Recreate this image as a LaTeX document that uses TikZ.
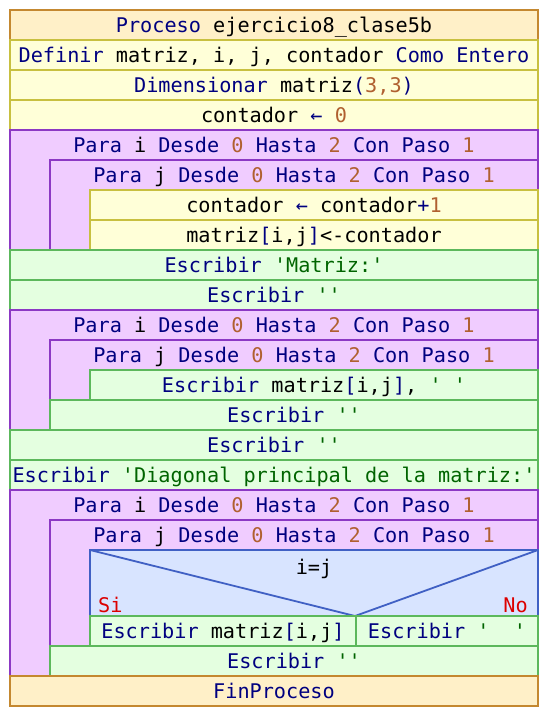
\documentclass[tikz,border=0pt]{standalone}
\usepackage{fontspec}
\newfontfamily\psefont{DejaVu Sans Mono}
\definecolor{orfill}{RGB}{255,240,200}
\definecolor{ordraw}{RGB}{196,136,48}
\definecolor{yefill}{RGB}{255,255,216}
\definecolor{yedraw}{RGB}{200,192,64}
\definecolor{pufill}{RGB}{240,204,255}
\definecolor{pudraw}{RGB}{140,56,196}
\definecolor{grfill}{RGB}{228,255,224}
\definecolor{grdraw}{RGB}{92,184,92}
\definecolor{blfill}{RGB}{216,228,255}
\definecolor{bldraw}{RGB}{64,96,196}
\definecolor{kwc}{RGB}{0,0,128}
\definecolor{nmc}{RGB}{176,96,48}
\definecolor{stc}{RGB}{0,100,0}
\definecolor{rdc}{RGB}{220,0,0}
\newcommand{\kw}[1]{\textcolor{kwc}{#1}}
\newcommand{\nm}[1]{\textcolor{nmc}{#1}}
\newcommand{\st}[1]{\textcolor{stc}{#1}}
\tikzset{
  probox/.style={fill=orfill,draw=ordraw,line width=2pt},
  asgbox/.style={fill=yefill,draw=yedraw,line width=2pt},
  loopbox/.style={fill=pufill,draw=pudraw,line width=2pt},
  outbox/.style={fill=grfill,draw=grdraw,line width=2pt},
  decbox/.style={fill=blfill,draw=bldraw,line width=2pt},
  txt/.style={anchor=base,inner sep=0pt,font=\psefont\fontsize{20.2}{24}\selectfont},
}
\begin{document}
\begin{tikzpicture}[x=1pt,y=-1pt]
\useasboundingbox (0,0) rectangle (548,716);
% header
\draw[probox] (10,10) rectangle (538,40);
\node[txt] (proc) at (274,32) {\kw{Proceso} ejercicio8\_clase5b};
\draw[asgbox] (10,40) rectangle (538,70);
\node[txt] (def) at (274,62) {\kw{Definir} matriz, i, j, contador \kw{Como Entero}};
\draw[asgbox] (10,70) rectangle (538,100);
\node[txt] (dim) at (274,92) {\kw{Dimensionar} matriz\kw{(}\nm{3,3}\kw{)}};
\draw[asgbox] (10,100) rectangle (538,130);
\node[txt] (cnt0) at (274,122) {contador \kw{←} \nm{0}};
% loop 1
\draw[loopbox] (10,130) rectangle (538,250);
\node[txt] (pi1) at (274,152) {\kw{Para} i \kw{Desde} \nm{0} \kw{Hasta} \nm{2} \kw{Con Paso} \nm{1}};
\draw[loopbox] (50,160) rectangle (538,250);
\node[txt] (pj1) at (294,182) {\kw{Para} j \kw{Desde} \nm{0} \kw{Hasta} \nm{2} \kw{Con Paso} \nm{1}};
\draw[asgbox] (90,190) rectangle (538,220);
\node[txt] (inc) at (314,212) {contador \kw{←} contador\kw{+}\nm{1}};
\draw[asgbox] (90,220) rectangle (538,250);
\node[txt] (asg) at (314,242) {matriz\kw{[}i,j\kw{]}<-contador};
\draw[outbox] (10,250) rectangle (538,280);
\node[txt] (w1) at (274,272) {\kw{Escribir} \st{'Matriz:'}};
\draw[outbox] (10,280) rectangle (538,310);
\node[txt] (w2) at (274,302) {\kw{Escribir} \st{''}};
% loop 2
\draw[loopbox] (10,310) rectangle (538,430);
\node[txt] (pi2) at (274,332) {\kw{Para} i \kw{Desde} \nm{0} \kw{Hasta} \nm{2} \kw{Con Paso} \nm{1}};
\draw[loopbox] (50,340) rectangle (538,400);
\node[txt] (pj2) at (294,362) {\kw{Para} j \kw{Desde} \nm{0} \kw{Hasta} \nm{2} \kw{Con Paso} \nm{1}};
\draw[outbox] (90,370) rectangle (538,400);
\node[txt] (w3) at (314,392) {\kw{Escribir} matriz\kw{[}i,j\kw{]}, \st{'\phantom{x}'}};
\draw[outbox] (50,400) rectangle (538,430);
\node[txt] (w4) at (294,422) {\kw{Escribir} \st{''}};
\draw[outbox] (10,430) rectangle (538,460);
\node[txt] (w5) at (274,452) {\kw{Escribir} \st{''}};
\draw[outbox] (10,460) rectangle (538,490);
\node[txt] (w6) at (274,482) {\kw{Escribir} \st{'Diagonal principal de la matriz:'}};
% loop 3
\draw[loopbox] (10,490) rectangle (538,676);
\node[txt] (pi3) at (274,512) {\kw{Para} i \kw{Desde} \nm{0} \kw{Hasta} \nm{2} \kw{Con Paso} \nm{1}};
\draw[loopbox] (50,520) rectangle (538,646);
\node[txt] (pj3) at (294,542) {\kw{Para} j \kw{Desde} \nm{0} \kw{Hasta} \nm{2} \kw{Con Paso} \nm{1}};
\draw[decbox] (90,550) rectangle (538,616);
\draw[draw=bldraw,line width=1.8pt] (90,550) -- (355,616) -- (538,550);
\node[txt] (cond) at (314,574) {i=j};
\node[txt,anchor=base west] (si) at (98,612) {\textcolor{rdc}{Si}};
\node[txt,anchor=base east] (no) at (528,612) {\textcolor{rdc}{No}};
\draw[outbox] (90,616) rectangle (356,646);
\node[txt] (w7) at (223,638) {\kw{Escribir} matriz\kw{[}i,j\kw{]}};
\draw[outbox] (356,616) rectangle (538,646);
\node[txt] (w8) at (447,638) {\kw{Escribir} \st{'\phantom{xx}'}};
\draw[outbox] (50,646) rectangle (538,676);
\node[txt] (w9) at (294,668) {\kw{Escribir} \st{''}};
\draw[probox] (10,676) rectangle (538,706);
\node[txt] (fin) at (274,698) {\kw{FinProceso}};
\end{tikzpicture}
\end{document}
